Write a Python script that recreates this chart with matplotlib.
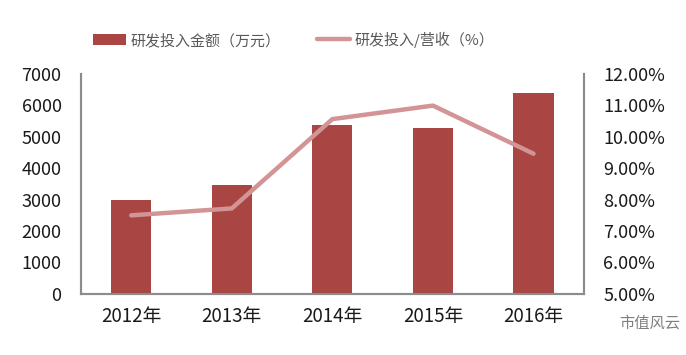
import numpy as np
import matplotlib.pyplot as plt
from matplotlib.ticker import FuncFormatter

plt.rcParams['font.family'] = ['Noto Sans CJK SC', 'DejaVu Sans']

# data
years = ['2012年', '2013年', '2014年', '2015年', '2016年']
rd_amount = [2980, 3450, 5380, 5280, 6390]        # 万元
rd_ratio = [7.50, 7.72, 10.56, 10.99, 9.46]       # %

bar_color = '#A94543'
line_color = '#D39495'
axis_color = '#8C8C8C'
text_color = '#1A1A1A'

fig = plt.figure(figsize=(6.86, 3.55), dpi=100)
ax = fig.add_axes([0.118, 0.172, 0.733, 0.62])
ax2 = ax.twinx()

x = np.arange(len(years))
bars = ax.bar(x, rd_amount, width=0.4, color=bar_color, zorder=2, label='研发投入金额（万元）')
line, = ax2.plot(x, rd_ratio, color=line_color, linewidth=3.2, solid_capstyle='round',
                 zorder=3, label='研发投入/营收（%）')

ax.set_xlim(-0.5, len(years) - 0.5)
ax.set_ylim(0, 7000)
ax.set_yticks(np.arange(0, 7001, 1000))
ax2.set_ylim(5, 12)
ax2.set_yticks(np.arange(5, 12.01, 1))
ax2.yaxis.set_major_formatter(FuncFormatter(lambda v, p: '%.2f%%' % v))

ax.set_xticks(x)
ax.set_xticklabels(years, fontsize=13, color=text_color)

for a in [ax, ax2]:
    a.spines['top'].set_visible(False)
    for s in ['left', 'right', 'bottom']:
        a.spines[s].set_color(axis_color)
        a.spines[s].set_linewidth(1.5)
    a.tick_params(length=0, labelsize=13, colors=text_color)
ax.tick_params(axis='y', pad=14)
ax.tick_params(axis='x', pad=9, labelsize=13.5)
ax2.tick_params(axis='y', pad=14)

ax2.set_zorder(ax.get_zorder() + 1)
ax2.patch.set_visible(False)

# legend on top
leg = fig.legend(handles=[bars, line], loc='center', bbox_to_anchor=(0.428, 0.888), ncol=2,
                 frameon=False, fontsize=10.8, handlelength=2.2, handleheight=0.8,
                 columnspacing=2.4, handletextpad=0.3)
for t in leg.get_texts():
    t.set_color('#595959')

# watermark
fig.text(0.903, 0.09, '市值风云', fontsize=11, color='#7F7F7F', ha='left', va='center')

plt.savefig('out.png', dpi=100)
